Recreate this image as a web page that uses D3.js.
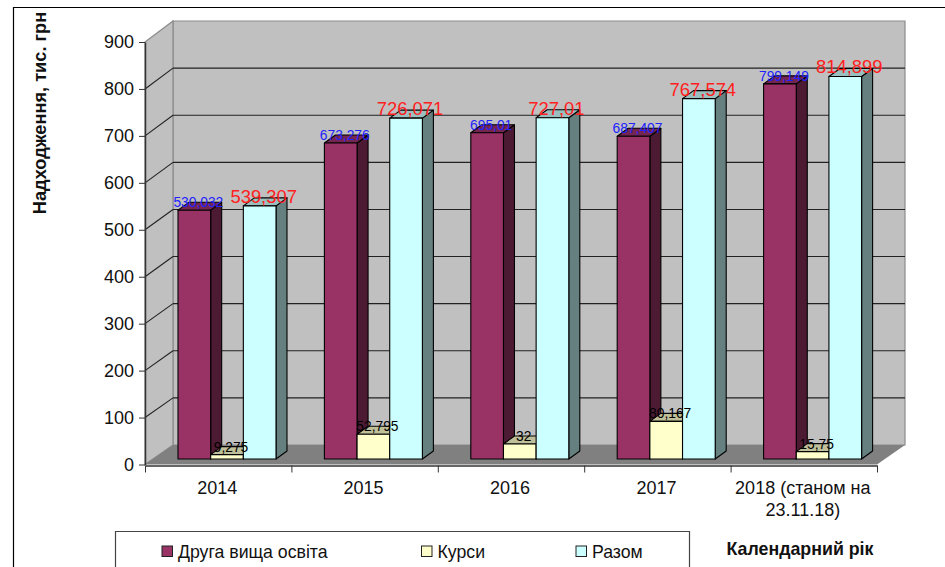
<!DOCTYPE html>
<html>
<head>
<meta charset="utf-8">
<script src="https://cdn.jsdelivr.net/npm/d3@7"></script>
<style>
  html, body { margin: 0; padding: 0; background: #fff; overflow: hidden; }
  text { font-family: "Liberation Sans", Arial, sans-serif; }
</style>
</head>
<body>
<svg id="chart" width="945" height="567"></svg>
<script>
const categories = ["2014", "2015", "2016", "2017", "2018 (станом на 23.11.18)"];
const seriesNames = ["Друга вища освіта", "Курси", "Разом"];
const secondDegree = [530.032, 673.276, 695.01, 687.407, 799.149];
const courses = [9.275, 52.795, 32, 80.167, 15.75];
const total = [539.307, 726.071, 727.01, 767.574, 814.899];
const yTicks = [0, 100, 200, 300, 400, 500, 600, 700, 800, 900];

const seriesValues = [secondDegree, courses, total];
const faceColors = ["#993366", "#ffffcc", "#ccffff"];
const topColors = ["#732650", "#bfbf99", "#99bfbf"];
const sideColors = ["#4d1a33", "#808066", "#668080"];
const labelColors = ["#2222ff", "#000", "#ff2020"];
const labelSizes = [13.8, 13.8, 18.4];

const svg = d3.select("#chart");

const left = 145, right = 877;
const wallDx = 28;
const barDx = 11, barDy = 8;

const x0 = d3.scaleBand().domain(categories).range([left, right]);
const x1 = d3.scaleBand().domain(d3.range(3)).range([33, 131]);
const yFront = d3.scaleLinear().domain([0, 900]).range([464.5, 42]);
const yBack = d3.scaleLinear().domain([0, 900]).range([445, 21]);
const yBar = d3.scaleLinear().domain([0, 900]).range([459, 36.5]);

const poly = pts => pts.map(p => p.join(",")).join(" ");

// outer frame, runs off the right and bottom edge
svg.append("path")
  .attr("d", "M13.5,567V7.5H945")
  .attr("fill", "none")
  .attr("stroke", "#000")
  .attr("stroke-width", 1.2);

// walls and floor
svg.append("polygon")
  .attr("points", poly([[left + wallDx, yBack(900)], [right + wallDx, yBack(900)], [right + wallDx, yBack(0)], [left + wallDx, yBack(0)]]))
  .attr("fill", "#c0c0c0")
  .attr("stroke", "#8c8c8c")
  .attr("stroke-width", 1.2);
svg.append("polygon")
  .attr("points", poly([[left, yFront(900)], [left + wallDx, yBack(900)], [left + wallDx, yBack(0)], [left, yFront(0)]]))
  .attr("fill", "#c0c0c0")
  .attr("stroke", "#8c8c8c")
  .attr("stroke-width", 1.2);
svg.append("polygon")
  .attr("points", poly([[left, yFront(0)], [left + wallDx, yBack(0)], [right + wallDx, yBack(0)], [right, yFront(0)]]))
  .attr("fill", "#808080");

// gridlines on side wall and back wall
const grid = svg.append("g").attr("stroke", "#222").attr("stroke-width", 1.1);
grid.selectAll(".side")
  .data(yTicks.filter(d => d > 0 && d < 900))
  .enter()
  .append("line")
  .attr("x1", left)
  .attr("y1", d => yFront(d))
  .attr("x2", left + wallDx)
  .attr("y2", d => yBack(d));
grid.selectAll(".back")
  .data(yTicks.filter(d => d > 0 && d < 900))
  .enter()
  .append("line")
  .attr("x1", left + wallDx)
  .attr("y1", d => yBack(d))
  .attr("x2", right + wallDx)
  .attr("y2", d => yBack(d));

// bars
const bars = svg.append("g")
  .selectAll("g")
  .data(categories)
  .enter()
  .append("g")
  .attr("transform", d => `translate(${x0(d)},0)`);

seriesValues.forEach((values, s) => {
  const g = bars.append("g").attr("stroke", "#000").attr("stroke-width", 1.1).attr("stroke-linejoin", "round");
  const xa = x1(s), xb = x1(s) + x1.bandwidth();
  g.append("polygon")
    .attr("fill", sideColors[s])
    .attr("points", (d, i) => poly([[xb, yBar(values[i])], [xb + barDx, yBar(values[i]) - barDy], [xb + barDx, yBar(0) - barDy], [xb, yBar(0)]]));
  g.append("polygon")
    .attr("fill", topColors[s])
    .attr("points", (d, i) => poly([[xa, yBar(values[i])], [xa + barDx, yBar(values[i]) - barDy], [xb + barDx, yBar(values[i]) - barDy], [xb, yBar(values[i])]]));
  g.append("rect")
    .attr("fill", faceColors[s])
    .attr("x", xa)
    .attr("y", (d, i) => yBar(values[i]))
    .attr("width", x1.bandwidth())
    .attr("height", (d, i) => yBar(0) - yBar(values[i]));
});

// value labels go above all the bars
seriesValues.forEach((values, s) => {
  svg.append("g")
    .selectAll("text")
    .data(categories)
    .enter()
    .append("text")
    .attr("x", (d, i) => x0(d) + x1(s) + x1.bandwidth() / 2 + barDx / 2 - (s === 1 ? 1.5 : 1.5))
    .attr("y", (d, i) => yBar(values[i]) - (s === 2 ? 3 : 3))
    .attr("text-anchor", "middle")
    .attr("font-size", labelSizes[s])
    .attr("fill", labelColors[s])
    .text((d, i) => String(values[i]).replace(".", ","));
});

// y axis
const yAxis = svg.append("g")
  .attr("transform", `translate(${left},0)`)
  .call(d3.axisLeft(yFront).tickValues(yTicks).tickSize(6).tickSizeOuter(0).tickPadding(5));
yAxis.selectAll("text").attr("font-size", 18).attr("fill", "#111").style("font-family", '"Liberation Sans", Arial, sans-serif');
yAxis.select(".domain").attr("stroke", "#333").attr("stroke-width", 1.5);
yAxis.selectAll(".tick line").attr("stroke", "#333");

// x axis: ticks between categories
const xEdges = d3.scaleLinear().domain([0, categories.length]).range([left, right]);
const xAxisTicks = svg.append("g")
  .attr("transform", `translate(0,${yFront(0) + 1})`)
  .call(d3.axisBottom(xEdges).ticks(categories.length).tickSize(7).tickSizeOuter(0).tickFormat(""));
xAxisTicks.select(".domain").attr("stroke", "#333").attr("stroke-width", 1.5);
xAxisTicks.selectAll(".tick line").attr("stroke", "#333");

const xAxisLabels = svg.append("g")
  .attr("transform", `translate(0,${yFront(0) + 1})`)
  .call(d3.axisBottom(x0).tickSize(0).tickPadding(16));
xAxisLabels.select(".domain").remove();
xAxisLabels.selectAll("text")
  .attr("font-size", 18)
  .attr("fill", "#111")
  .style("font-family", '"Liberation Sans", Arial, sans-serif')
  .call(wrap, 146);

function wrap(sel, width) {
  sel.each(function () {
    const t = d3.select(this);
    const words = t.text().split(" ");
    const y = t.attr("y");
    let line = [];
    let tspan = t.text(null).append("tspan").attr("x", -1).attr("y", y).attr("dy", "0.71em");
    words.forEach(w => {
      line.push(w);
      tspan.text(line.join(" "));
      if (tspan.node().getComputedTextLength() > width && line.length > 1) {
        line.pop();
        tspan.text(line.join(" "));
        line = [w];
        tspan = t.append("tspan").attr("x", -1).attr("y", y).attr("dy", "1.93em").text(w);
      }
    });
  });
}

// axis titles
svg.append("text")
  .attr("transform", "translate(46,113) rotate(-90)")
  .attr("text-anchor", "middle")
  .attr("font-size", 18.2)
  .attr("font-weight", "bold")
  .attr("fill", "#111")
  .text("Надходження, тис. грн");
svg.append("text")
  .attr("x", 800)
  .attr("y", 555)
  .attr("text-anchor", "middle")
  .attr("font-size", 17.8)
  .attr("font-weight", "bold")
  .attr("fill", "#111")
  .text("Календарний рік");

// legend
svg.append("path")
  .attr("d", "M115.5,567V531.5H689.5V567")
  .attr("fill", "#fff")
  .attr("stroke", "#444")
  .attr("stroke-width", 1.2);
const legendX = d3.scaleOrdinal().domain(seriesNames).range([162, 421.5, 576]);
const legend = svg.append("g")
  .selectAll("g")
  .data(seriesNames)
  .enter()
  .append("g")
  .attr("transform", d => `translate(${legendX(d)},546)`);
legend.append("rect")
  .attr("width", 10.5)
  .attr("height", 10.5)
  .attr("fill", (d, i) => faceColors[i])
  .attr("stroke", "#222");
legend.append("text")
  .attr("x", 16)
  .attr("y", 11.5)
  .attr("font-size", 17.7)
  .attr("fill", "#111")
  .text(d => d);
</script>
</body>
</html>
